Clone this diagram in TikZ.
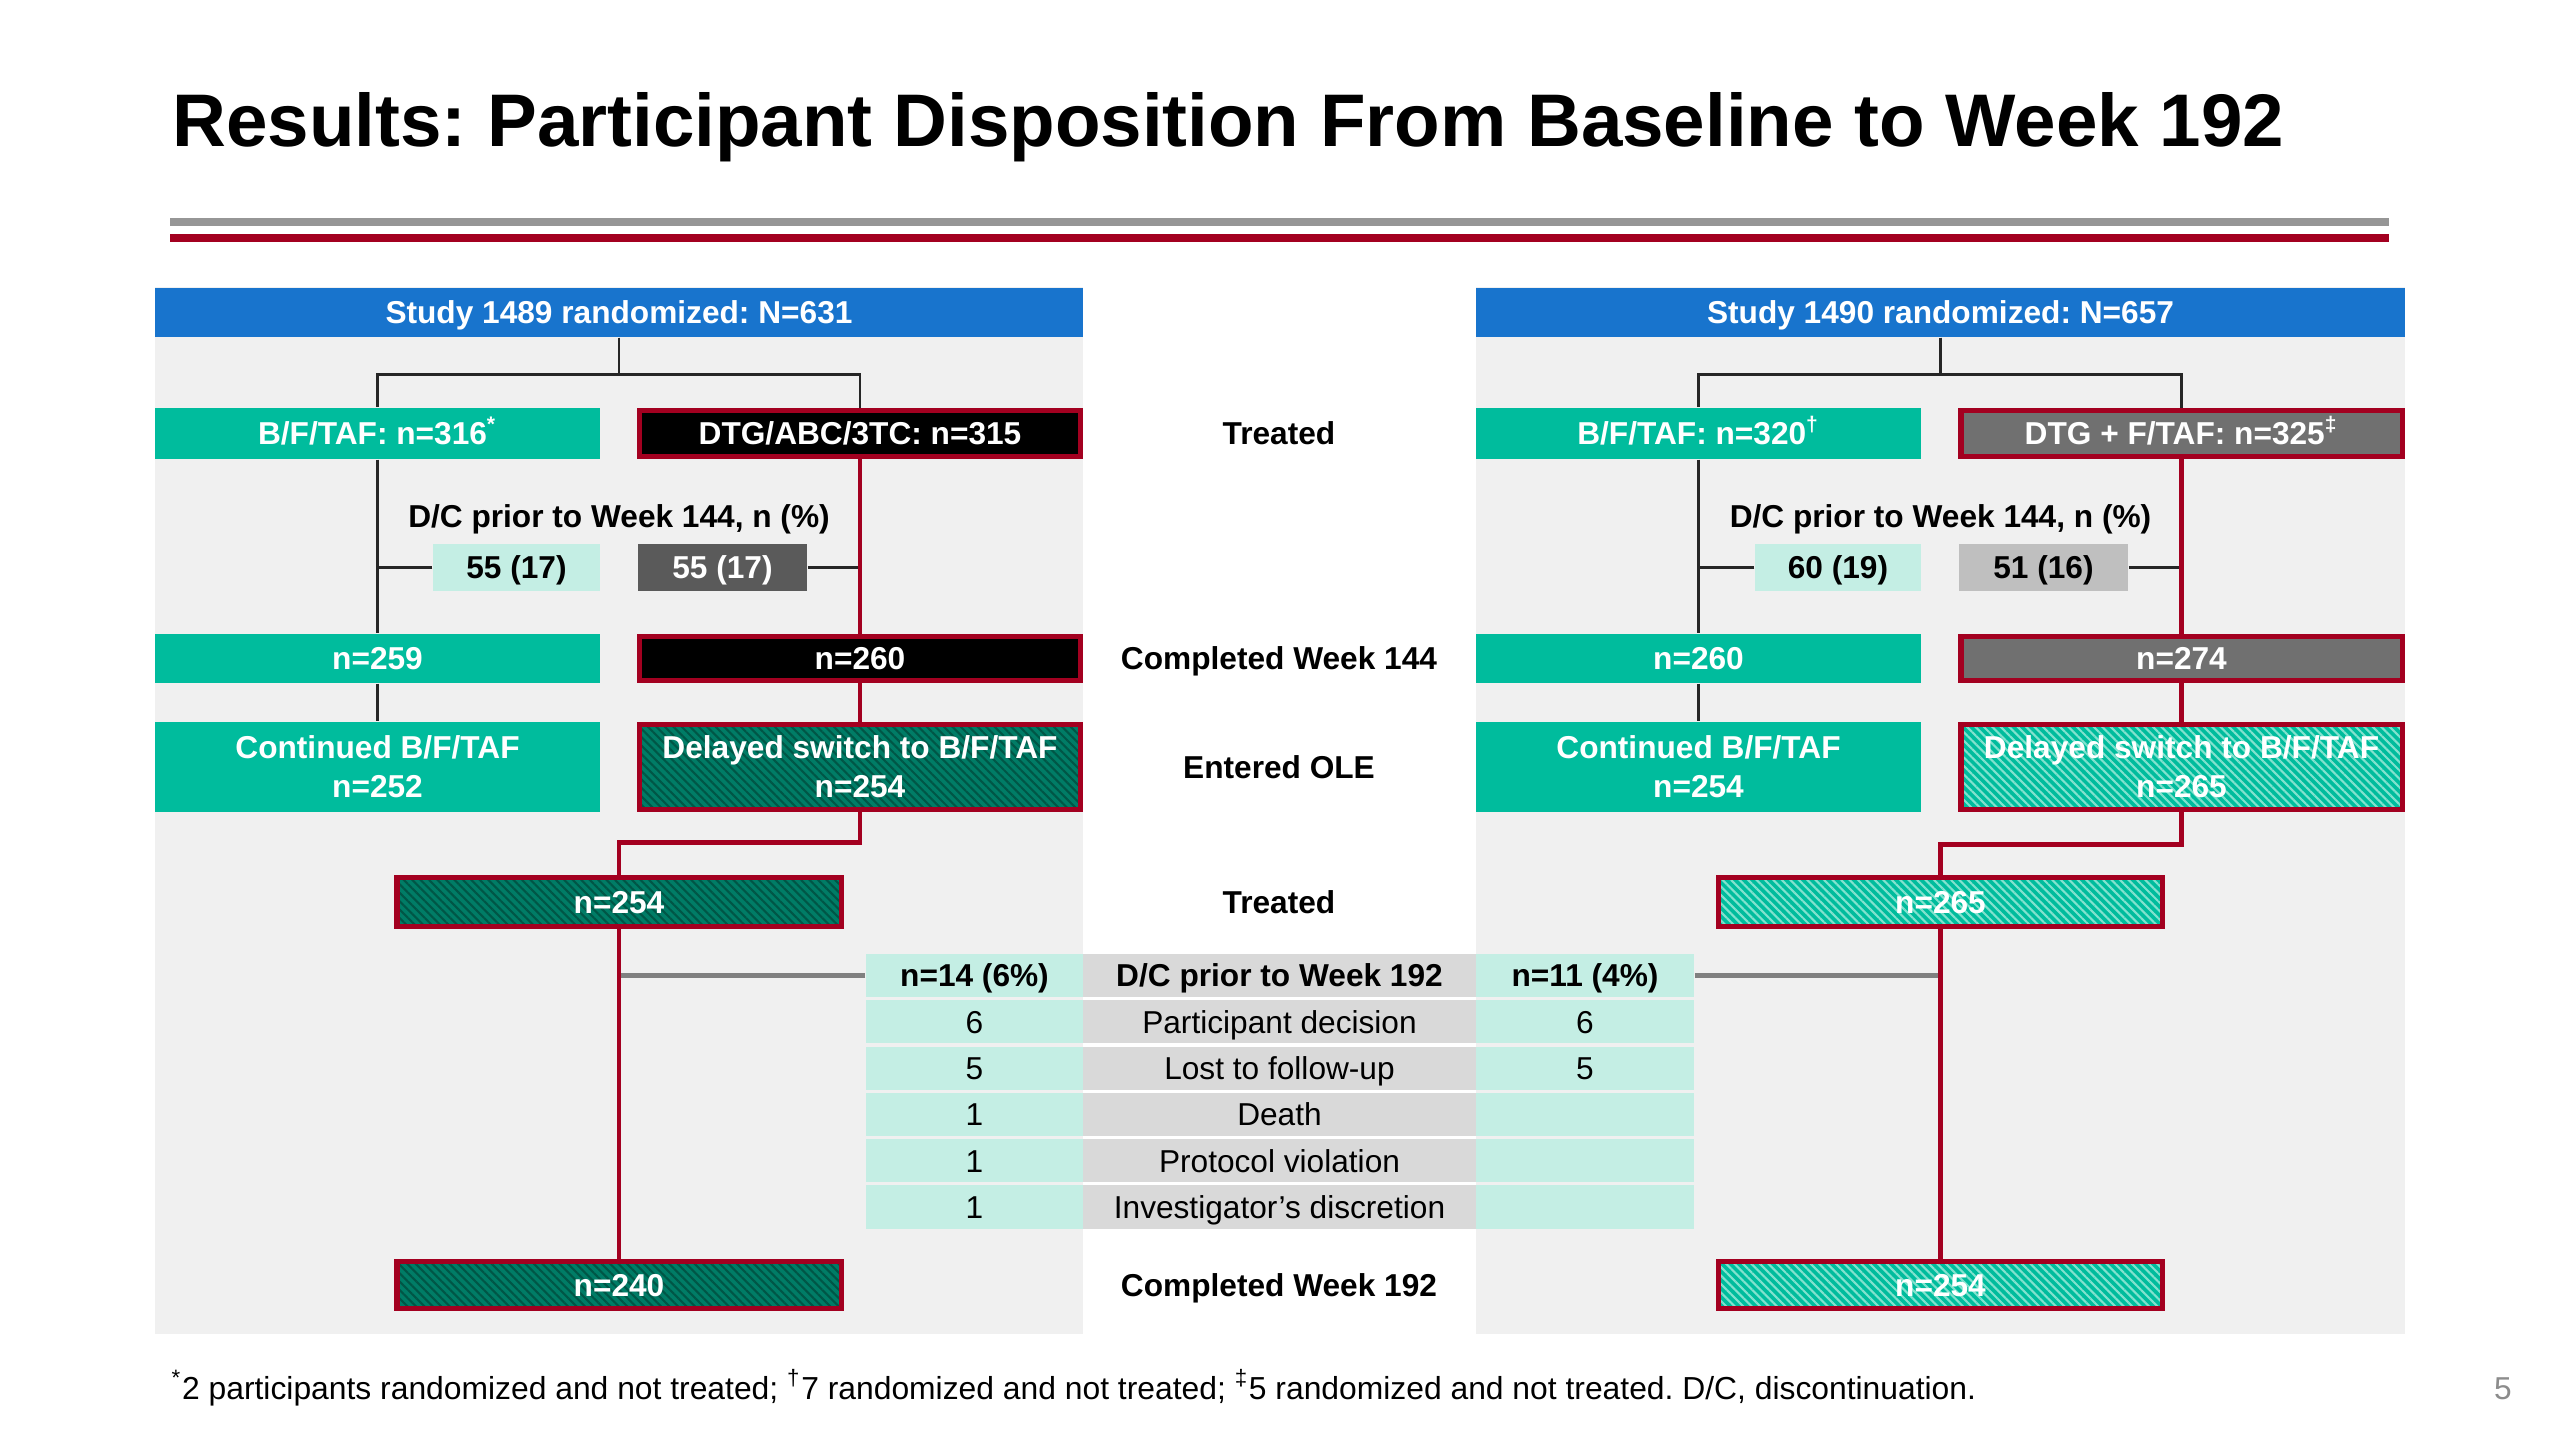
\documentclass[tikz,border=0pt]{standalone}
\usepackage{fontspec}
\setmainfont{Liberation Sans}
\usetikzlibrary{patterns.meta}
\frenchspacing

\definecolor{hdrblue}{RGB}{24,116,205}
\definecolor{teal1}{RGB}{0,188,157}
\definecolor{teal2}{RGB}{196,238,228}
\definecolor{tealdk}{RGB}{0,124,102}
\definecolor{tealdk2}{RGB}{0,86,70}
\definecolor{teallt}{RGB}{130,226,206}
\definecolor{redline}{RGB}{163,0,32}
\definecolor{panel}{RGB}{240,240,240}
\definecolor{midgray}{RGB}{217,217,217}
\definecolor{topgray}{RGB}{150,150,150}
\definecolor{dkgray}{RGB}{90,90,90}
\definecolor{mdgray}{RGB}{112,112,112}
\definecolor{ltgray}{RGB}{191,191,191}

\tikzset{
  txt/.style={font=\fontsize{9}{11}\selectfont},
  bftxt/.style={font=\fontsize{9}{11}\selectfont\bfseries},
  oneline/.style={text height=6.45pt, text depth=0pt},
  box/.style={bftxt, text=white, inner sep=0pt, align=center},
  hdr/.style={box, oneline, fill=hdrblue, minimum width=9.28cm, minimum height=0.49cm},
  tbox/.style={box, fill=teal1, minimum width=4.45cm},
  rbox/.style={box, draw=redline, line width=1.5pt, minimum width=4.41cm},
  hatchdk/.style={rbox, preaction={fill=tealdk},
    pattern={Lines[angle=-45,distance=1.7pt,line width=0.6pt]}, pattern color=tealdk2},
  hatchlt/.style={rbox, preaction={fill=teal1},
    pattern={Lines[angle=-45,distance=1.7pt,line width=0.6pt]}, pattern color=teallt},
  dcbox/.style={box, oneline, minimum height=0.47cm},
  cell/.style={txt, oneline, inner sep=0pt, minimum height=0.43cm},
  blk/.style={line width=0.7pt, black!85},
  redc/.style={line width=1.4pt, redline},
  grayc/.style={line width=1.2pt, black!50}
}

\begin{document}
\begin{tikzpicture}[x=0.01cm,y=-0.01cm]
\useasboundingbox (0,0) rectangle (2560,1440);
\fill[white] (0,0) rectangle (2560,1440);

% title and rules
\node[anchor=base west, inner sep=0pt, font=\fontsize{21.2}{25}\selectfont\bfseries] (title) at (172,147)
  {Results: Participant Disposition From Baseline to Week 192};
\draw[topgray, line width=2pt] (170,222) -- (2389,222);
\draw[redline, line width=2.4pt] (170,238) -- (2389,238);

% panels
\fill[panel] (155,287) rectangle (1083,1334);
\fill[panel] (1476,287) rectangle (2405,1334);

% study 1489
\node[hdr] (hdra) at (619,312.5) {Study 1489 randomized: N=631};
\node[tbox, oneline, minimum height=0.51cm] (bfta) at (377.5,433.5) {B/F/TAF: n=316\textsuperscript{*}};
\node[rbox, oneline, fill=black, minimum height=0.46cm] (dtga) at (860,433.5) {DTG/ABC/3TC: n=315};
\node[bftxt, oneline, inner sep=0pt] (dcla) at (619,516) {D/C prior to Week 144, n (\%)};
\node[dcbox, fill=teal2, text=black, minimum width=1.67cm] (dcaa) at (516.5,567.5) {55 (17)};
\node[dcbox, fill=dkgray, minimum width=1.69cm] (dcab) at (722.5,567.5) {55 (17)};
\node[tbox, oneline, minimum height=0.49cm] (wka) at (377.5,658.5) {n=259};
\node[rbox, oneline, fill=black, minimum height=0.44cm] (wkb) at (860,658.5) {n=260};
\node[tbox, minimum height=0.90cm] (olea) at (377.5,767) {Continued B/F/TAF\\n=252};
\node[hatchdk, minimum height=0.85cm] (oleb) at (860,767) {Delayed switch to B/F/TAF\\n=254};
\node[hatchdk, oneline, minimum width=4.44cm, minimum height=0.49cm] (trta) at (619,902) {n=254};
\node[hatchdk, oneline, minimum width=4.44cm, minimum height=0.47cm] (cmpa) at (619,1285) {n=240};

% study 1490
\node[hdr] (hdrb) at (1940.5,312.5) {Study 1490 randomized: N=657};
\node[tbox, oneline, minimum height=0.51cm] (bftb) at (1698.5,433.5) {B/F/TAF: n=320\textsuperscript{†}};
\node[rbox, oneline, fill=mdgray, minimum height=0.46cm] (dtgb) at (2181.5,433.5) {DTG + F/TAF: n=325\textsuperscript{‡}};
\node[bftxt, oneline, inner sep=0pt] (dclb) at (1940.5,516) {D/C prior to Week 144, n (\%)};
\node[dcbox, fill=teal2, text=black, minimum width=1.66cm] (dcba) at (1838,567.5) {60 (19)};
\node[dcbox, fill=ltgray, text=black, minimum width=1.69cm] (dcbb) at (2043.5,567.5) {51 (16)};
\node[tbox, oneline, minimum height=0.49cm] (wkc) at (1698.5,658.5) {n=260};
\node[rbox, oneline, fill=mdgray, minimum height=0.44cm] (wkd) at (2181.5,658.5) {n=274};
\node[tbox, minimum height=0.90cm] (olec) at (1698.5,767) {Continued B/F/TAF\\n=254};
\node[hatchlt, minimum height=0.85cm] (oled) at (2181.5,767) {Delayed switch to B/F/TAF\\n=265};
\node[hatchlt, oneline, minimum width=4.44cm, minimum height=0.49cm] (trtb) at (1940.5,902) {n=265};
\node[hatchlt, oneline, minimum width=4.44cm, minimum height=0.47cm] (cmpb) at (1940.5,1285) {n=254};

% middle column
\node[bftxt, oneline, inner sep=0pt] (lbtr) at (1279,433.5) {Treated};
\node[bftxt, oneline, inner sep=0pt] (lbwk) at (1279,658.5) {Completed Week 144};
\node[bftxt, oneline, inner sep=0pt] (lbole) at (1279,767) {Entered OLE};
\node[bftxt, oneline, inner sep=0pt] (lbtr2) at (1279,902) {Treated};
\node[bftxt, oneline, inner sep=0pt] (lbwk2) at (1279,1285) {Completed Week 192};

% week 192 table
\node[cell, bftxt, fill=teal2, minimum width=2.17cm] (tl0) at (974.5,975.5) {n=14 (6\%)};
\node[cell, bftxt, fill=midgray, minimum width=3.93cm] (tm0) at (1279.5,975.5) {D/C prior to Week 192};
\node[cell, bftxt, fill=teal2, minimum width=2.18cm] (tr0) at (1585,975.5) {n=11 (4\%)};
\foreach \a/\b/\c [count=\i] in {6/Participant decision/6, 5/Lost to follow-up/5,
    1/Death/, 1/Protocol violation/, 1/Investigator's discretion/} {
  \node[cell, fill=teal2, minimum width=2.17cm] (tl\i) at (974.5,{975.5+\i*46.3}) {\a};
  \node[cell, fill=midgray, minimum width=3.93cm] (tm\i) at (1279.5,{975.5+\i*46.3}) {\b};
  \node[cell, fill=teal2, minimum width=2.18cm] (tr\i) at (1585,{975.5+\i*46.3}) {\c};
}

% connectors 1489
\draw[blk] (hdra.south) -- ++(0,37) -| (bfta.north);
\draw[blk] (hdra.south) -- ++(0,37) -| (dtga.north);
\draw[blk] (bfta.south) -- (wka.north);
\draw[blk] (dcaa.west) -- (dcaa.west -| bfta.south);
\draw[blk] (dcab.east) -- (dcab.east -| dtga.south);
\draw[redc] (dtga.south) -- (wkb.north);
\draw[blk] (wka.south) -- (olea.north);
\draw[redc] (wkb.south) -- (oleb.north);
\draw[redc] (oleb.south) -- ++(0,32) -| (trta.north);
\draw[grayc] (tl0.west) -- (tl0.west -| trta.south);
\draw[redc] (trta.south) -- (cmpa.north);

% connectors 1490
\draw[blk] (hdrb.south) -- ++(0,37) -| (bftb.north);
\draw[blk] (hdrb.south) -- ++(0,37) -| (dtgb.north);
\draw[blk] (bftb.south) -- (wkc.north);
\draw[blk] (dcba.west) -- (dcba.west -| bftb.south);
\draw[blk] (dcbb.east) -- (dcbb.east -| dtgb.south);
\draw[redc] (dtgb.south) -- (wkd.north);
\draw[blk] (wkc.south) -- (olec.north);
\draw[redc] (wkd.south) -- (oled.north);
\draw[redc] (oled.south) -- ++(0,32) -| (trtb.north);
\draw[grayc] (tr0.east) -- (tr0.east -| trtb.south);
\draw[redc] (trtb.south) -- (cmpb.north);

% footnote
\node[anchor=base west, inner sep=0pt, font=\fontsize{9.05}{11}\selectfont] (foot) at (171,1399)
  {\textsuperscript{*}2 participants randomized and not treated; \textsuperscript{†}7 randomized and not treated; \textsuperscript{‡}5 randomized and not treated. D/C, discontinuation.};
\node[anchor=base, inner sep=0pt, txt, text=black!45] (pgno) at (2503,1399) {5};
\end{tikzpicture}
\end{document}
